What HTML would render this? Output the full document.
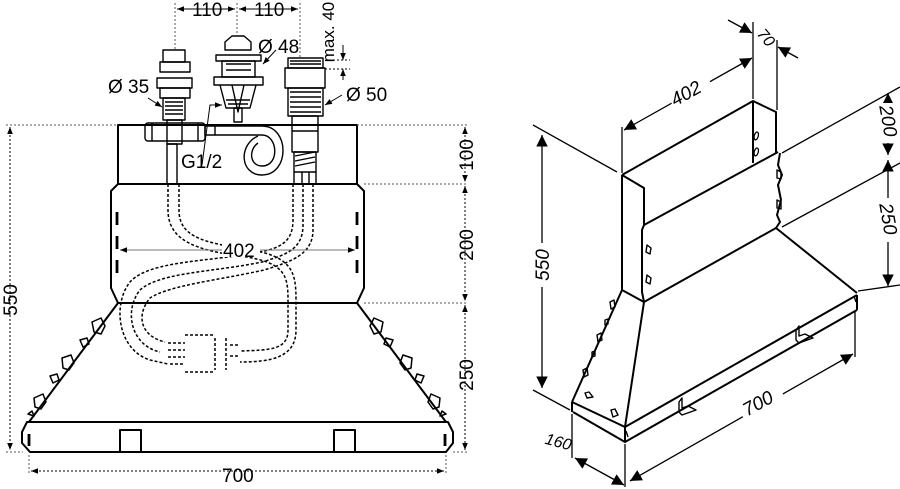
<!DOCTYPE html>
<html><head><meta charset="utf-8"><style>
html,body{margin:0;padding:0;background:#fff;}
svg{display:block;}
text{font-family:"Liberation Sans",sans-serif;fill:#000;}
</style></head><body>
<svg width="900" height="489" viewBox="0 0 900 489" xmlns="http://www.w3.org/2000/svg">
<defs>
<marker id="ar" viewBox="0 0 10 10" refX="10" refY="5" markerWidth="7" markerHeight="7" orient="auto-start-reverse"><path d="M0,1 L10,5 L0,9 z" fill="#000"/></marker>
<marker id="ab" viewBox="0 0 10 10" refX="10" refY="5" markerWidth="9" markerHeight="9" orient="auto-start-reverse"><path d="M0,0 L10,5 L0,10 z" fill="#000"/></marker>
</defs>
<g fill="none" stroke="#000" stroke-width="2" stroke-linejoin="round">
<!-- LEFT VIEW body -->
<rect x="118" y="125" width="239" height="59"/>
<path d="M118,184 L111,191 L111,288 L118,303 M357,184 L364,191 L364,288 L357,303"/>
<path d="M118,303 H357 L446,422 M118,303 L29,422"/>
<path d="M27,422 H448 L453,432 L453,443 L446,452 H30 L22,443 L22,432 Z"/>
<rect x="120" y="430" width="21" height="22"/>
<rect x="334" y="430" width="21" height="22"/>
<path d="M29,434 V446 M445,434 V446" stroke-width="2.8"/>
<path d="M117,212 V225 M117,236 V249 M117,260 V273 M357,212 V225 M357,236 V249 M357,260 V273" stroke-width="2.8"/>
<g stroke-width="1.5">
<path d="M92,322 l9,-4 4,8 -4,8 -7,-2 z M80,340 l7,-2 2,6 -6,3 z M62,358 l9,-3 3,8 -5,7 -6,-2 z M50,376 l7,-2 2,6 -6,3 z M34,398 l9,-4 3,8 -5,7 -6,-2 z M28,414 l4,-3 2,5 z"/>
<path d="M383,322 l-9,-4 -4,8 4,8 7,-2 z M393,340 l-7,-2 -2,6 6,3 z M412,358 l-9,-3 -3,8 5,7 6,-2 z M424,376 l-7,-2 -2,6 6,3 z M440,398 l-9,-4 -3,8 5,7 6,-2 z M446,414 l-4,-3 -2,5 z"/>
</g>
<!-- fixtures -->
<g stroke-width="1.4">
<rect x="163" y="50" width="22" height="12"/>
<rect x="160" y="62" width="30" height="10"/>
<rect x="157" y="78" width="35" height="10"/>
<rect x="160" y="88" width="30" height="10"/>
<rect x="163" y="98" width="22" height="22"/>
<path d="M165,102 H183 M165,106 H183 M165,110 H183 M165,114 H183"/>
<rect x="167" y="120" width="15" height="24"/>
<rect x="145" y="123" width="60" height="18" rx="3"/>
<path d="M152,123 V141 M198,123 V141"/>
<rect x="205" y="126" width="10" height="9"/>
<path d="M215,126 H262 M215,135 H262"/>
<path d="M262,126 C290,126 290,175 262,175 C240,175 238,145 258,136"/>
<path d="M262,135 C278,135 280,166 262,166 C250,166 248,150 258,143"/>
<rect x="167" y="144" width="10" height="40"/>
<path d="M225,42 L232,36 H244 L251,42 V50 H225 Z"/>
<rect x="216" y="55" width="45" height="6"/>
<rect x="222" y="61" width="33" height="16"/>
<path d="M226,64 H251 M226,70 H251"/>
<rect x="214" y="77" width="49" height="8"/>
<path d="M220,85 L226,108 H250 L256,85 M232,85 L238,112 L244,85"/>
<path d="M226,100 H250 M228,104 H248"/>
<rect x="234" y="108" width="8" height="14"/>
<rect x="288" y="58" width="35" height="10"/>
<path d="M290,61 H321 M290,64 H321"/>
<rect x="285" y="68" width="40" height="20"/>
<rect x="288" y="88" width="35" height="28"/>
<path d="M290,92 H321 M290,97 H321 M290,102 H321 M290,107 H321 M290,112 H321"/>
<rect x="292" y="116" width="26" height="36"/>
<path d="M292,131 H318"/>
<rect x="294" y="152" width="22" height="20"/>
<path d="M295,156 L315,152 M295,161 L315,157 M295,166 L315,162"/>
<path d="M294,172 V184 M316,172 V184 M302,172 V184 M309,172 V184"/>
</g>
<!-- hoses -->
<g stroke-dasharray="3,2" stroke-width="1.5">
<path d="M168,184 V210 C168,240 195,250 240,256 C285,262 288,275 288,300 V330 C288,350 270,350 240,351"/>
<path d="M179,184 V210 C179,235 200,242 240,248 C292,255 296,270 296,300 V330 C296,358 270,362 240,362"/>
<path d="M293,184 V220 C293,242 280,248 260,252 C210,262 150,260 130,282 C112,305 118,350 150,360 L168,364"/>
<path d="M303,184 V225 C303,250 285,255 262,262 C215,272 160,272 140,290 C124,310 130,345 160,352"/>
<path d="M313,184 V230 C313,255 290,262 264,270 C220,280 170,285 150,298 C136,315 140,336 165,342"/>
<path d="M168,343 H185 M168,350 H185 M168,357 H185 M170,364 H185 M185,335 H215 M185,372 H215"/>
<path d="M215,338 V370 M226,338 V370 M230,345 H240 M230,356 H240"/>
</g>
</g>
<!-- LEFT DIMENSIONS -->
<g stroke="#555" stroke-width="1" fill="none" stroke-dasharray="2,2">
<path d="M6,125 H118 M357,125 H468 M364,184 H468 M364,303 H468 M6,452 H23 M453,452 H468"/>
<path d="M29,455 V474 M446,455 V474"/>
<path d="M175,3 V50 M237,3 V35 M300,3 V57"/>
</g>
<g stroke="#000" stroke-width="1" fill="none">
<line x1="10" y1="127" x2="10" y2="450" stroke-dasharray="2,2" marker-start="url(#ar)" marker-end="url(#ar)"/>
<line x1="465" y1="127" x2="465" y2="182" stroke-dasharray="2,2" marker-start="url(#ar)" marker-end="url(#ar)"/>
<line x1="465" y1="186" x2="465" y2="301" stroke-dasharray="2,2" marker-start="url(#ar)" marker-end="url(#ar)"/>
<line x1="465" y1="305" x2="465" y2="450" stroke-dasharray="2,2" marker-start="url(#ar)" marker-end="url(#ar)"/>
<line x1="31" y1="471" x2="444" y2="471" stroke-dasharray="2,2" marker-start="url(#ar)" marker-end="url(#ar)"/>
<line x1="120" y1="250" x2="355" y2="250" stroke="#777" marker-start="url(#ar)" marker-end="url(#ar)"/>
<line x1="177" y1="9" x2="235" y2="9" marker-start="url(#ar)" marker-end="url(#ar)"/>
<line x1="239" y1="9" x2="298" y2="9" marker-start="url(#ar)" marker-end="url(#ar)"/>
<line x1="343" y1="45" x2="343" y2="60" marker-end="url(#ar)"/>
<line x1="343" y1="80" x2="343" y2="69" marker-end="url(#ar)"/>
<path d="M325,60 H350 M325,69 H350" stroke-dasharray="2,2"/>
<line x1="148" y1="98" x2="162" y2="107" marker-end="url(#ar)"/>
<line x1="276" y1="50" x2="263" y2="64" marker-end="url(#ar)"/>
<line x1="342" y1="95" x2="325" y2="105" marker-end="url(#ar)"/>
<path d="M202,165 L210,105 H220" /><line x1="210" y1="105" x2="222" y2="105" marker-end="url(#ar)"/>
</g>
<rect x="222" y="239" width="38" height="18" fill="#fff"/>
<g font-size="19">
<text x="223" y="257">402</text>
<text x="222" y="482">700</text>
<text x="192" y="16">110</text>
<text x="254" y="16">110</text>
<text x="108" y="93">Ø 35</text>
<text x="258" y="53">Ø 48</text>
<text x="346" y="101">Ø 50</text>
<text x="181" y="168">G1/2</text>
<text transform="translate(17,300) rotate(-90)" text-anchor="middle">550</text>
<text transform="translate(473,155) rotate(-90)" text-anchor="middle">100</text>
<text transform="translate(473,245) rotate(-90)" text-anchor="middle">200</text>
<text transform="translate(473,375) rotate(-90)" text-anchor="middle">250</text>
<text transform="translate(334,32) rotate(-90)" text-anchor="middle" font-size="17">max. 40</text>
</g>
<!-- RIGHT VIEW -->
<g fill="none" stroke="#000" stroke-width="2" stroke-linejoin="round">
<path d="M622,175 L753,101 L776,112 V153"/>
<path d="M753,101 V163"/>
<path d="M622,175 L644,188 V225 L642,230 V292 L644,302 M622,175 V290 L644,302"/>
<path d="M644,225 L778,152 M644,302 L776,228"/>
<path d="M780,153 L778,165 782,175 778,185 781,200 777,215 780,222 776,228"/>
<path d="M776,228 L857,293 M622,290 L572,402 M644,302 L625,427"/>
<path d="M572,402 L625,427 L857,295 M573,412 L625,442 L857,310 M857,295 V310 M625,427 V442 M572,402 V412"/>
<path d="M757,132 a2,4 15 1,0 0.1,0 M757,148 a2,4 15 1,0 0.1,0" stroke-width="1.3"/>
<g stroke-width="1.4">
<path d="M777,170 l4,2 0,7 -4,-1 z M777,200 l4,2 0,7 -4,-1 z M647,245 l4,3 -1,6 -4,-2 z M647,275 l4,3 -1,6 -4,-2 z"/>
<path d="M610,302 l4,-2 1,7 -4,2 z M605,320 l3,-1 0,5 -3,1 z M597,335 l4,-2 1,7 -4,2 z M592,352 l3,-1 0,5 -3,1 z M583,370 l4,-2 1,7 -4,2 z M585,393 l4,-1 4,5 -6,1 z M611,410 l4,-1 3,6 -5,2 z M626,431 l2,6 M854,296 l2,6"/>
<path d="M679,402 V412 L682,415 L696,410 L688,406 L682,408 V398 Z M796,330 V340 L799,343 L813,338 L805,334 L799,336 V326 Z"/>
</g>
</g>
<g stroke="#000" stroke-width="1.3" fill="none">
<path d="M622,127 V173 M753,22 V99 M777,40 V110"/>
<path d="M533,125 L617,172 M533,390 L570,410 M782,153 L900,87 M782,227 L900,163 M858,291 L900,285"/>
<path d="M572,414 V458 M625,444 V487 M855,312 V357"/>
<line x1="542" y1="135" x2="542" y2="388" marker-start="url(#ab)" marker-end="url(#ab)"/>
<line x1="888" y1="93" x2="888" y2="155" marker-start="url(#ab)" marker-end="url(#ab)"/>
<line x1="888" y1="160" x2="888" y2="286" marker-start="url(#ab)" marker-end="url(#ab)"/>
<line x1="624" y1="130" x2="752" y2="58" marker-start="url(#ab)" marker-end="url(#ab)"/>
<line x1="630" y1="481" x2="853" y2="354" marker-start="url(#ab)" marker-end="url(#ab)"/>
<line x1="575" y1="458" x2="624" y2="485" marker-start="url(#ab)" marker-end="url(#ab)"/>
<line x1="728" y1="20" x2="752" y2="33" marker-end="url(#ab)"/>
<line x1="798" y1="58" x2="778" y2="47" marker-end="url(#ab)"/>
</g>
<rect x="668" y="81" width="44" height="20" fill="#fff" transform="rotate(-29 690 91)"/>
<rect x="738" y="391" width="46" height="22" fill="#fff" transform="rotate(-29 761 402)"/>
<rect x="531" y="243" width="22" height="44" fill="#fff"/>
<rect x="877" y="103" width="22" height="40" fill="#fff"/>
<rect x="877" y="198" width="22" height="44" fill="#fff"/>
<g font-size="19" font-style="italic">
<text transform="translate(689,99) rotate(-29)" text-anchor="middle">402</text>
<text transform="translate(761,409) rotate(-29)" text-anchor="middle">700</text>
<text transform="translate(549,265) rotate(-90)" text-anchor="middle">550</text>
<text transform="translate(882,122) rotate(80)" text-anchor="middle">200</text>
<text transform="translate(882,220) rotate(80)" text-anchor="middle">250</text>
<text transform="translate(762,41) rotate(50)" text-anchor="middle" font-size="16">70</text>
<text transform="translate(557,447) rotate(15)" text-anchor="middle" font-size="16">160</text>
</g>
</svg>
</body></html>
